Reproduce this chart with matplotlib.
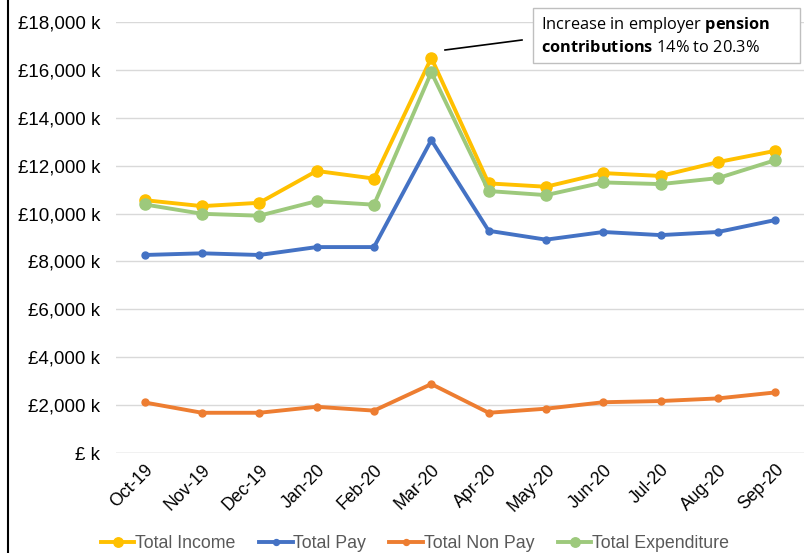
import matplotlib
matplotlib.use("Agg")
import matplotlib.pyplot as plt
from matplotlib.lines import Line2D
from matplotlib.patches import Rectangle
from matplotlib.ticker import FuncFormatter

months = ["Oct-19", "Nov-19", "Dec-19", "Jan-20", "Feb-20", "Mar-20",
          "Apr-20", "May-20", "Jun-20", "Jul-20", "Aug-20", "Sep-20"]
total_income = [10560, 10310, 10450, 11780, 11460, 16500, 11260, 11120, 11690, 11570, 12150, 12620]
total_pay = [8270, 8340, 8270, 8600, 8600, 13070, 9280, 8910, 9230, 9100, 9230, 9730]
total_non_pay = [2110, 1680, 1680, 1930, 1770, 2880, 1680, 1850, 2120, 2170, 2280, 2530]
total_expenditure = [10380, 9990, 9910, 10520, 10370, 15900, 10940, 10770, 11300, 11230, 11480, 12230]

plt.rcParams['font.family'] = ['Liberation Sans', 'DejaVu Sans']
plt.rcParams['mathtext.fontset'] = 'custom'
plt.rcParams['mathtext.rm'] = 'Open Sans'
plt.rcParams['mathtext.bf'] = 'Open Sans:bold'

W, H = 805, 553
fig = plt.figure(figsize=(W/100, H/100), dpi=100)
ax = fig.add_axes([116/W, 1-453/H, (804-116)/W, (453-22)/H])

x = list(range(len(months)))
series = [
    ("Total Income", total_income, "#FFC000", 8),
    ("Total Pay", total_pay, "#4472C4", 5),
    ("Total Non Pay", total_non_pay, "#ED7D31", 5),
    ("Total Expenditure", total_expenditure, "#9DC97C", 8),
]
for name, vals, col, ms in series:
    ax.plot(x, vals, color=col, lw=2.8, marker='o', ms=ms, label=name,
            solid_joinstyle='round', clip_on=False)

ax.set_xlim(-0.5, len(months) - 0.5)
ax.set_ylim(0, 18000)
ax.set_yticks(range(0, 18001, 2000))
ax.yaxis.set_major_formatter(FuncFormatter(lambda v, p: "£ k" if v == 0 else f"£{int(v):,} k"))
ax.set_xticks(x)
ax.set_xticklabels(months, rotation=45, ha='right', rotation_mode='anchor', fontsize=12.7)
ax.tick_params(axis='y', labelsize=13.5, length=0, pad=11.5)
ax.tick_params(axis='x', length=0, pad=6)
ax.grid(axis='y', color='#D9D9D9', lw=1)
ax.set_axisbelow(True)
for s in ax.spines.values():
    s.set_visible(False)
ax.axhline(0, color='#D9D9D9', lw=1, zorder=0)

# annotation box
fig.add_artist(Rectangle((533/W, 1-63/H), (800-533)/W, (63-8)/H, transform=fig.transFigure,
                         fc='white', ec='#BFBFBF', lw=1, zorder=5))
fig.text(541/W, 1-25/H, "Increase in employer $\\bf{pension}$",
         fontsize=11.8, va='center', ha='left', family='Open Sans', zorder=6)
fig.text(541/W, 1-48/H, "$\\bf{contributions}$ 14% to 20.3%",
         fontsize=11.8, va='center', ha='left', family='Open Sans', zorder=6)
fig.add_artist(Line2D([445/W, 522/W], [1-50/H, 1-40/H], color='black', lw=1.2))

# left border
fig.add_artist(Line2D([8/W, 8/W], [0, 1], color='black', lw=1.5))

handles = [Line2D([0], [0], color=c, lw=2.8, marker='o', ms=ms*0.85) for _, _, c, ms in series]
leg = fig.legend(handles, [s[0] for s in series], loc='center', bbox_to_anchor=(415/W, 1-544/H),
                 ncol=4, frameon=False, fontsize=12.8, handlelength=1.9, handletextpad=0.05,
                 columnspacing=1.3, borderpad=0)
for t in leg.get_texts():
    t.set_color('#595959')

fig.savefig("out.png", dpi=100)
